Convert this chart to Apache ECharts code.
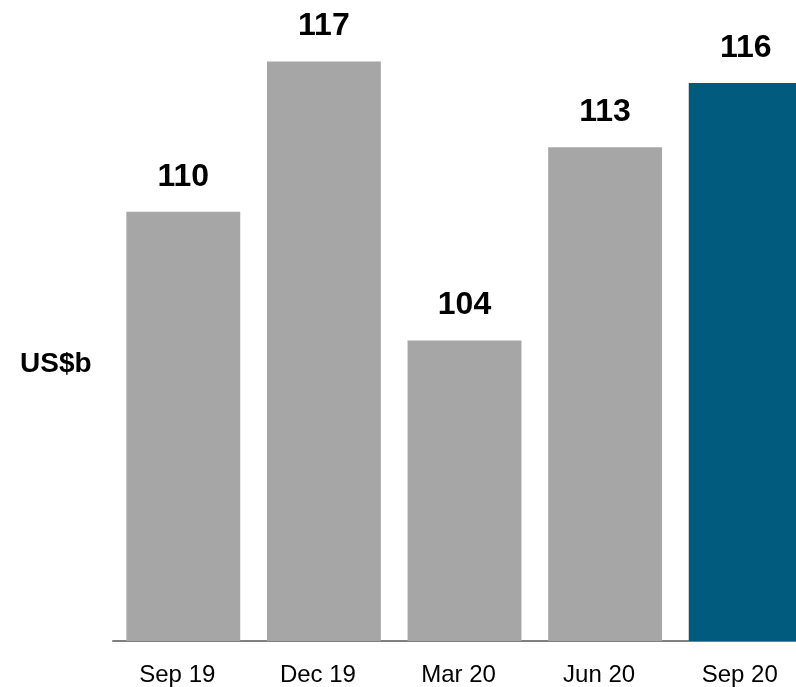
<!DOCTYPE html>
<html>
<head>
<meta charset="utf-8">
<script src="https://cdn.jsdelivr.net/npm/echarts@6/dist/echarts.min.js"></script>
<style>
  html, body { margin: 0; padding: 0; background: #fff; overflow: hidden; }
  /* chart is a bit wider than the window so the last bar is cut at the edge */
  #chart { width: 816px; height: 687px; }
</style>
</head>
<body>
<div id="chart"></div>
<script>
// Quarterly values, US$b
const quarters = ["Sep 19", "Dec 19", "Mar 20", "Jun 20", "Sep 20"]
const values = [110, 117, 104, 113, 116]
const highlightIndex = 4

const grey = "#a6a6a6"
const blue = "#005b7f"

const chart = echarts.init(document.getElementById("chart"))

chart.setOption({
  animation: false,
  textStyle: { fontFamily: "Liberation Sans, Arial, sans-serif" },
  graphic: [
    {
      type: "text",
      left: 20,
      top: 350,
      style: {
        text: "US$b",
        font: "bold 28px 'Liberation Sans', Arial, sans-serif",
        fill: "#000",
      },
    },
  ],
  grid: {
    left: 113,
    right: 0,
    top: 40,
    bottom: 42,
    containLabel: false,
  },
  xAxis: {
    type: "category",
    data: quarters,
    axisTick: { show: false },
    axisLine: { lineStyle: { color: "#808080", width: 2 } },
    axisLabel: {
      color: "#000",
      fontSize: 24,
      margin: 22,
      padding: [0, 12, 0, 0],
    },
  },
  yAxis: {
    type: "value",
    min: 90,
    max: 118,
    show: false,
    splitLine: { show: false },
  },
  series: [
    {
      type: "bar",
      barCategoryGap: "19%",
      data: values.map((v, i) => ({
        value: v,
        itemStyle: { color: i === highlightIndex ? blue : grey },
      })),
      label: {
        show: true,
        position: "top",
        distance: 19,
        color: "#000",
        fontSize: 32,
        fontWeight: "bold",
      },
    },
  ],
})
</script>
</body>
</html>
